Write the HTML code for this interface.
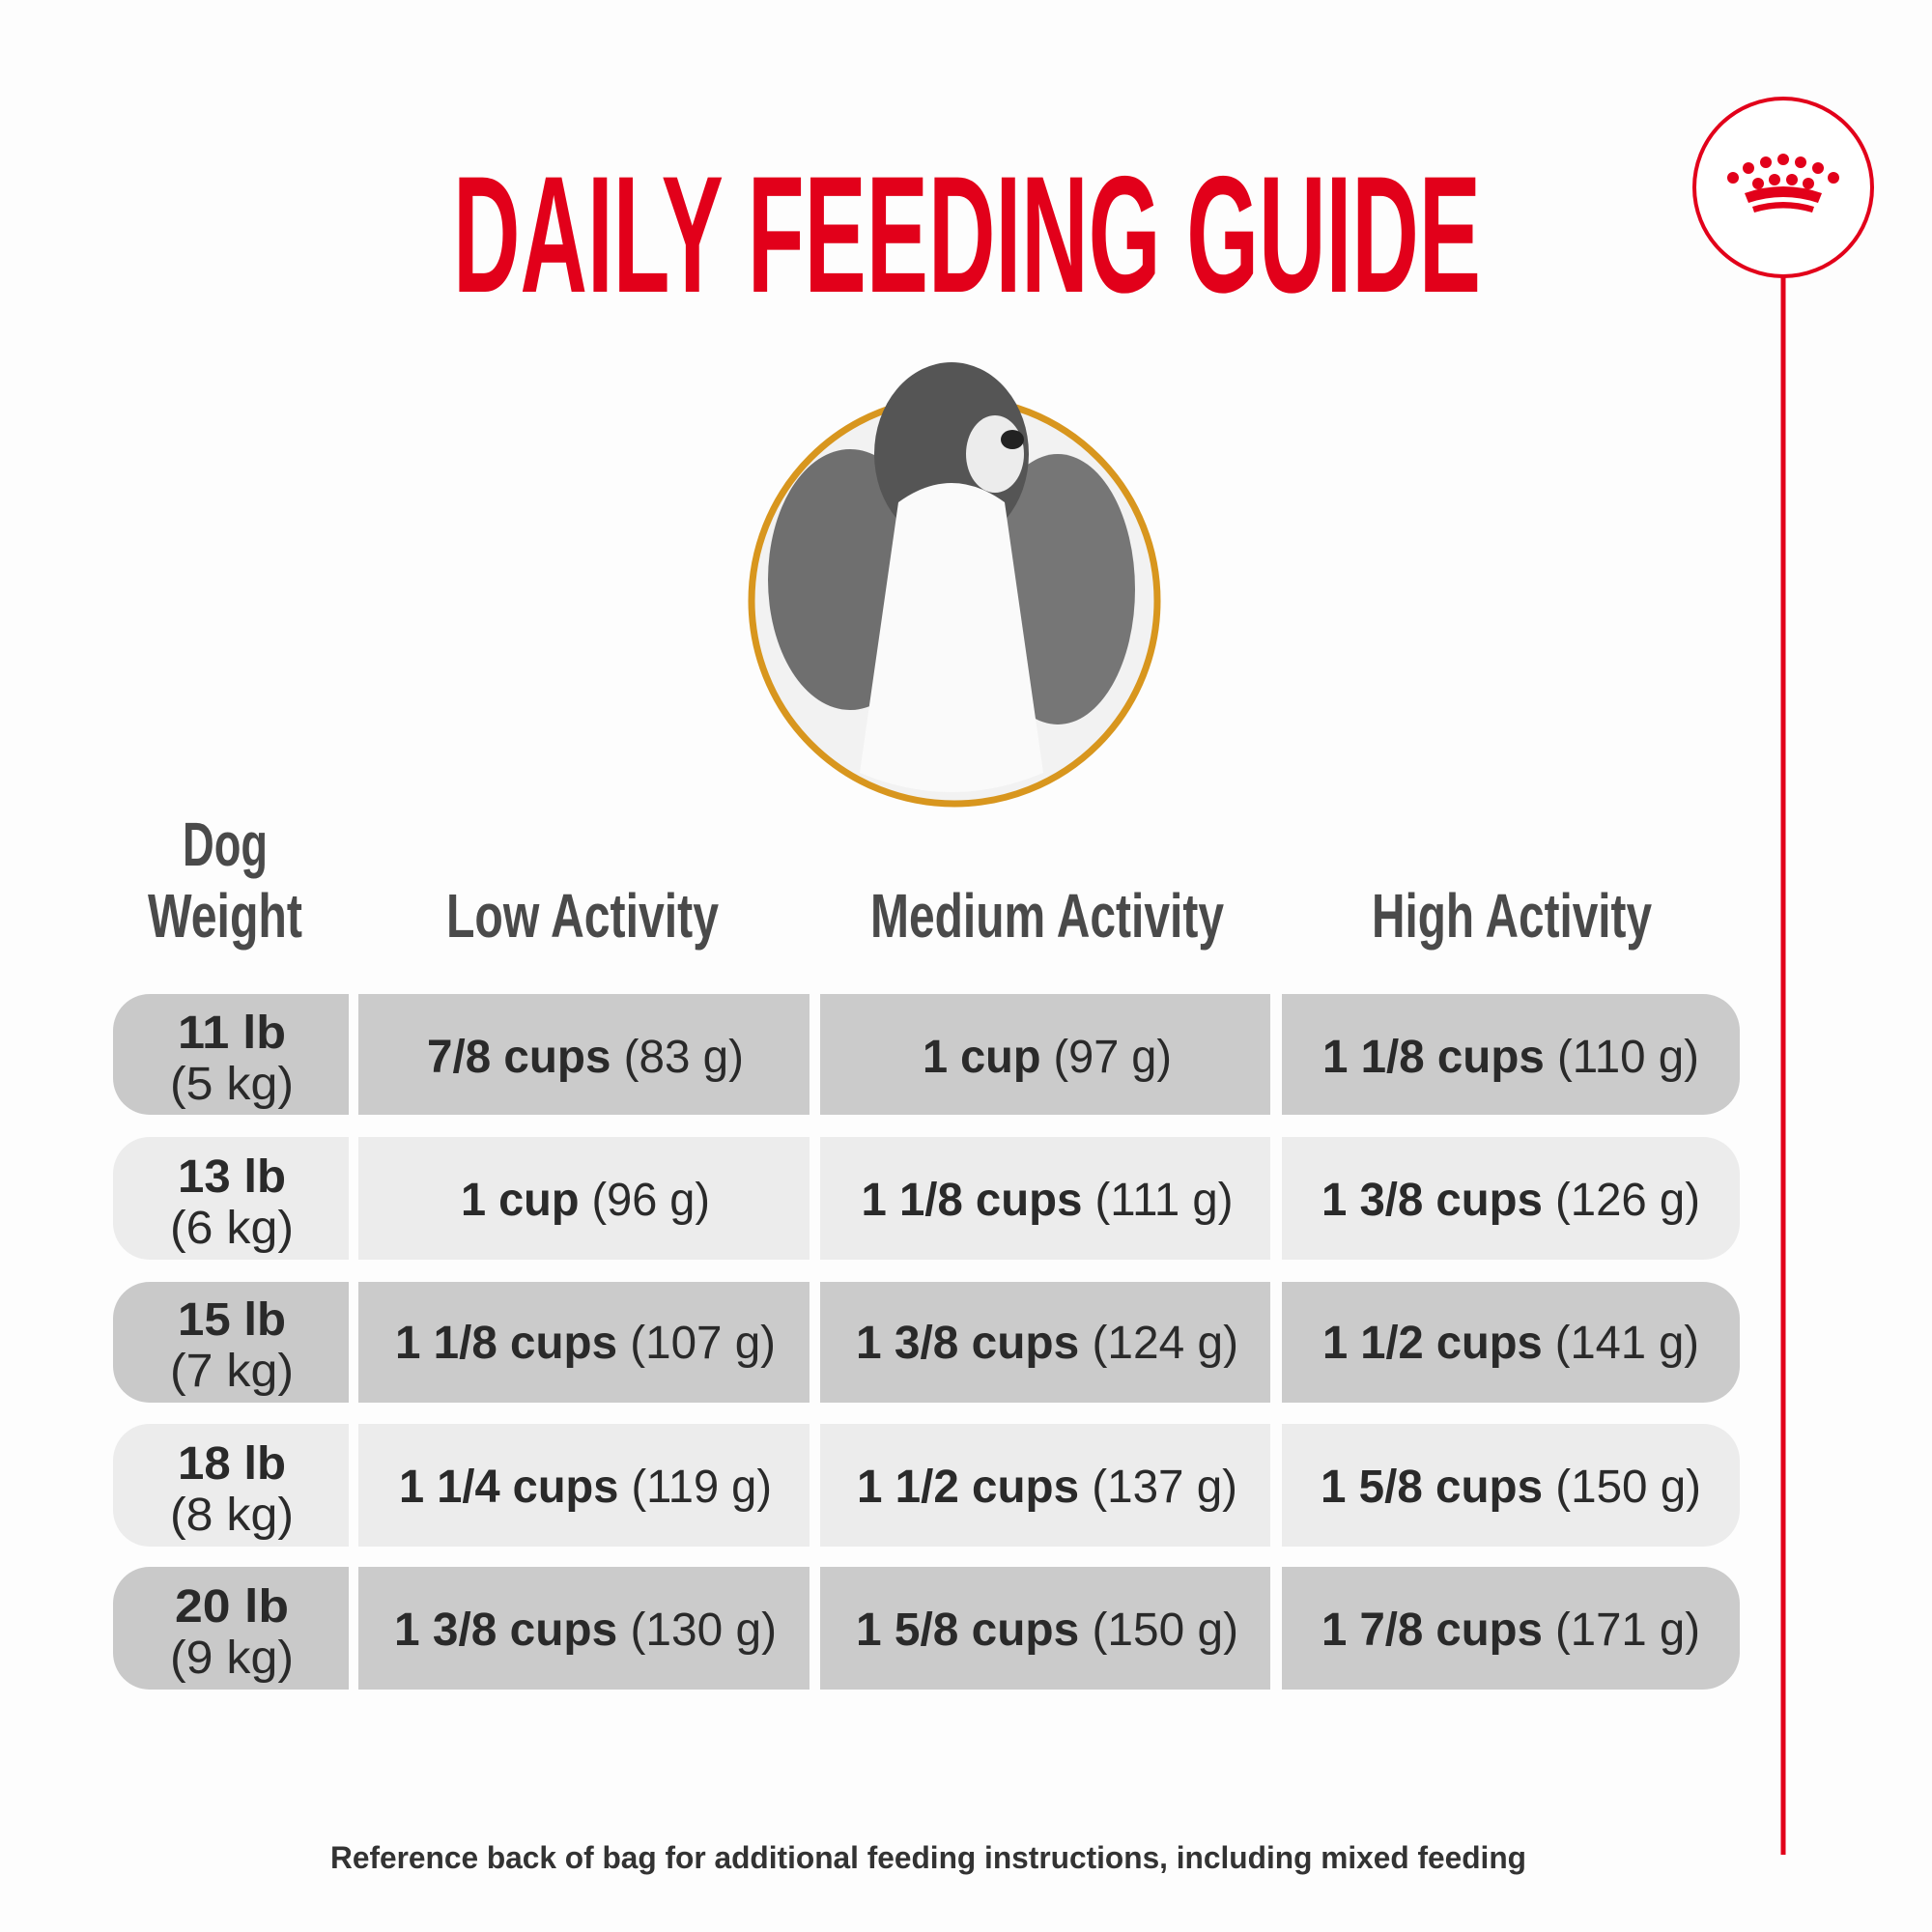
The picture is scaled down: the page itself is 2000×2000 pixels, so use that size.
<!DOCTYPE html>
<html><head><style>
html,body{margin:0;padding:0;background:#fdfdfd;}
svg{display:block}
</style></head><body>
<svg width="2000" height="2000" viewBox="0 0 2000 2000" xmlns="http://www.w3.org/2000/svg">
<rect width="2000" height="2000" fill="#fdfdfd"/>
<text x="1001" y="302" text-anchor="middle" font-family="Liberation Sans, sans-serif" font-weight="bold" font-size="172" fill="#e2001a" textLength="1064" lengthAdjust="spacingAndGlyphs">DAILY FEEDING GUIDE</text>
<!-- logo -->
<circle cx="1846" cy="194" r="92" fill="#fff" stroke="#e2001a" stroke-width="4"/>
<line x1="1846" y1="286" x2="1846" y2="1920" stroke="#e2001a" stroke-width="5"/>
<g fill="#e2001a">
<circle cx="1794" cy="184" r="6"/><circle cx="1810" cy="174" r="6"/><circle cx="1828" cy="168" r="6"/><circle cx="1846" cy="165" r="6"/><circle cx="1864" cy="168" r="6"/><circle cx="1882" cy="174" r="6"/><circle cx="1898" cy="184" r="6"/>
<circle cx="1820" cy="190" r="6"/><circle cx="1837" cy="186" r="6"/><circle cx="1855" cy="186" r="6"/><circle cx="1872" cy="190" r="6"/>
<path d="M1806 200 Q1846 186 1886 200 L1882 210 Q1846 198 1810 210Z"/>
<path d="M1814 214 Q1846 204 1878 214 L1876 220 Q1846 211 1816 220Z"/>
</g>
<!-- dog -->
<circle cx="988" cy="622" r="210" fill="#f2f2f2" stroke="#d8961e" stroke-width="7"/>
<ellipse cx="880" cy="600" rx="85" ry="135" fill="#6f6f6f"/>
<ellipse cx="1095" cy="610" rx="80" ry="140" fill="#767676"/>
<ellipse cx="985" cy="470" rx="80" ry="95" fill="#555"/>
<path d="M930 520 Q985 480 1040 520 L1080 800 Q985 840 890 800Z" fill="#fafafa"/>
<ellipse cx="1030" cy="470" rx="30" ry="40" fill="#ececec"/>
<ellipse cx="1048" cy="455" rx="12" ry="10" fill="#222"/>
<!-- headers -->
<g font-family="Liberation Sans, sans-serif" font-weight="bold" font-size="64" fill="#4a4a4a" text-anchor="middle">
<text x="233" y="896" textLength="88" lengthAdjust="spacingAndGlyphs">Dog</text>
<text x="233" y="970" textLength="160" lengthAdjust="spacingAndGlyphs">Weight</text>
<text x="603" y="970" textLength="282" lengthAdjust="spacingAndGlyphs">Low Activity</text>
<text x="1084" y="970" textLength="366" lengthAdjust="spacingAndGlyphs">Medium Activity</text>
<text x="1565" y="970" textLength="290" lengthAdjust="spacingAndGlyphs">High Activity</text>
</g>
<g font-family="Liberation Sans, sans-serif" font-size="48" fill="#2a2a2a" text-anchor="middle">
<path d="M155 1029 H361 V1154 H155 A38 38 0 0 1 117 1116 V1067 A38 38 0 0 1 155 1029Z" fill="#c9c9c9"/>
<rect x="371" y="1029" width="467" height="125" fill="#cbcbcb"/>
<rect x="849" y="1029" width="466" height="125" fill="#cbcbcb"/>
<path d="M1327 1029 H1763 A38 38 0 0 1 1801 1067 V1116 A38 38 0 0 1 1763 1154 H1327Z" fill="#cbcbcb"/>
<path d="M155 1177 H361 V1304 H155 A38 38 0 0 1 117 1266 V1215 A38 38 0 0 1 155 1177Z" fill="#ececec"/>
<rect x="371" y="1177" width="467" height="127" fill="#ececec"/>
<rect x="849" y="1177" width="466" height="127" fill="#ececec"/>
<path d="M1327 1177 H1763 A38 38 0 0 1 1801 1215 V1266 A38 38 0 0 1 1763 1304 H1327Z" fill="#ececec"/>
<path d="M155 1327 H361 V1452 H155 A38 38 0 0 1 117 1414 V1365 A38 38 0 0 1 155 1327Z" fill="#c9c9c9"/>
<rect x="371" y="1327" width="467" height="125" fill="#cbcbcb"/>
<rect x="849" y="1327" width="466" height="125" fill="#cbcbcb"/>
<path d="M1327 1327 H1763 A38 38 0 0 1 1801 1365 V1414 A38 38 0 0 1 1763 1452 H1327Z" fill="#cbcbcb"/>
<path d="M155 1474 H361 V1601 H155 A38 38 0 0 1 117 1563 V1512 A38 38 0 0 1 155 1474Z" fill="#ececec"/>
<rect x="371" y="1474" width="467" height="127" fill="#ececec"/>
<rect x="849" y="1474" width="466" height="127" fill="#ececec"/>
<path d="M1327 1474 H1763 A38 38 0 0 1 1801 1512 V1563 A38 38 0 0 1 1763 1601 H1327Z" fill="#ececec"/>
<path d="M155 1622 H361 V1749 H155 A38 38 0 0 1 117 1711 V1660 A38 38 0 0 1 155 1622Z" fill="#c9c9c9"/>
<rect x="371" y="1622" width="467" height="127" fill="#cbcbcb"/>
<rect x="849" y="1622" width="466" height="127" fill="#cbcbcb"/>
<path d="M1327 1622 H1763 A38 38 0 0 1 1801 1660 V1711 A38 38 0 0 1 1763 1749 H1327Z" fill="#cbcbcb"/>

<g font-weight="bold">
<text x="240" y="1085" textLength="112" lengthAdjust="spacingAndGlyphs">11 lb</text>
<text x="240" y="1138" textLength="128" lengthAdjust="spacingAndGlyphs" font-weight="normal">(5 kg)</text>
<text x="240" y="1234" textLength="112" lengthAdjust="spacingAndGlyphs">13 lb</text>
<text x="240" y="1287" textLength="128" lengthAdjust="spacingAndGlyphs" font-weight="normal">(6 kg)</text>
<text x="240" y="1382" textLength="112" lengthAdjust="spacingAndGlyphs">15 lb</text>
<text x="240" y="1435" textLength="128" lengthAdjust="spacingAndGlyphs" font-weight="normal">(7 kg)</text>
<text x="240" y="1531" textLength="112" lengthAdjust="spacingAndGlyphs">18 lb</text>
<text x="240" y="1584" textLength="128" lengthAdjust="spacingAndGlyphs" font-weight="normal">(8 kg)</text>
<text x="240" y="1679" textLength="118" lengthAdjust="spacingAndGlyphs">20 lb</text>
<text x="240" y="1732" textLength="128" lengthAdjust="spacingAndGlyphs" font-weight="normal">(9 kg)</text>
</g>
<g>
<text x="606" y="1110" textLength="328" lengthAdjust="spacingAndGlyphs"><tspan font-weight="bold">7/8 cups</tspan> (83 g)</text>
<text x="1084" y="1110" textLength="258" lengthAdjust="spacingAndGlyphs"><tspan font-weight="bold">1 cup</tspan> (97 g)</text>
<text x="1564" y="1110" textLength="390" lengthAdjust="spacingAndGlyphs"><tspan font-weight="bold">1 1/8 cups</tspan> (110 g)</text>
<text x="606" y="1258" textLength="258" lengthAdjust="spacingAndGlyphs"><tspan font-weight="bold">1 cup</tspan> (96 g)</text>
<text x="1084" y="1258" textLength="385" lengthAdjust="spacingAndGlyphs"><tspan font-weight="bold">1 1/8 cups</tspan> (111 g)</text>
<text x="1564" y="1258" textLength="392" lengthAdjust="spacingAndGlyphs"><tspan font-weight="bold">1 3/8 cups</tspan> (126 g)</text>
<text x="606" y="1406" textLength="394" lengthAdjust="spacingAndGlyphs"><tspan font-weight="bold">1 1/8 cups</tspan> (107 g)</text>
<text x="1084" y="1406" textLength="396" lengthAdjust="spacingAndGlyphs"><tspan font-weight="bold">1 3/8 cups</tspan> (124 g)</text>
<text x="1564" y="1406" textLength="390" lengthAdjust="spacingAndGlyphs"><tspan font-weight="bold">1 1/2 cups</tspan> (141 g)</text>
<text x="606" y="1555" textLength="386" lengthAdjust="spacingAndGlyphs"><tspan font-weight="bold">1 1/4 cups</tspan> (119 g)</text>
<text x="1084" y="1555" textLength="394" lengthAdjust="spacingAndGlyphs"><tspan font-weight="bold">1 1/2 cups</tspan> (137 g)</text>
<text x="1564" y="1555" textLength="394" lengthAdjust="spacingAndGlyphs"><tspan font-weight="bold">1 5/8 cups</tspan> (150 g)</text>
<text x="606" y="1703" textLength="396" lengthAdjust="spacingAndGlyphs"><tspan font-weight="bold">1 3/8 cups</tspan> (130 g)</text>
<text x="1084" y="1703" textLength="396" lengthAdjust="spacingAndGlyphs"><tspan font-weight="bold">1 5/8 cups</tspan> (150 g)</text>
<text x="1564" y="1703" textLength="392" lengthAdjust="spacingAndGlyphs"><tspan font-weight="bold">1 7/8 cups</tspan> (171 g)</text>
</g>
</g>
<text x="961" y="1934" text-anchor="middle" font-family="Liberation Sans, sans-serif" font-weight="bold" font-size="32" fill="#333" textLength="1238" lengthAdjust="spacingAndGlyphs">Reference back of bag for additional feeding instructions, including mixed feeding</text>
</svg>
</body></html>
